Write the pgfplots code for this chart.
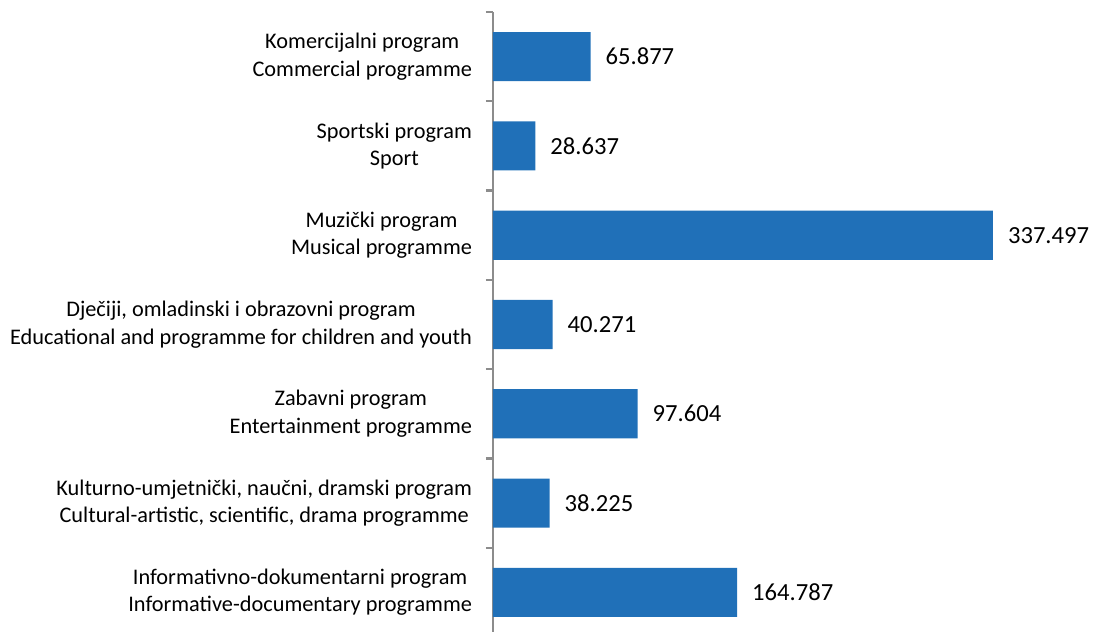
\documentclass[border=0pt]{standalone}
\usepackage{fontspec}
\setmainfont{Carlito}
\usepackage{pgfplots}
\pgfplotsset{compat=1.18}
\definecolor{barblue}{HTML}{2070B8}
\definecolor{axgrey}{HTML}{8C8C8C}

\begin{document}
\begin{tikzpicture}
\useasboundingbox (0,0) rectangle (546.5pt,316pt);
\begin{axis}[
  at={(246.5pt,-2.5pt)}, anchor=south west,
  scale only axis,
  width=259.26pt, height=312.5pt,
  xbar,
  bar width=0.55,
  xmin=0, xmax=350,
  ymin=-0.5, ymax=6.5,
  hide x axis,
  axis y line*=left,
  y axis line style={axgrey, line width=1.1pt, -},
  ytick={0,...,6},
  major tick length=0pt,
  minor ytick={-0.5,0.5,...,6.5},
  minor tick length=3.5pt,
  y tick style={axgrey, line width=1.1pt},
  tick align=outside,
  yticklabels={
    {Informativno-dokumentarni program\\Informative-documentary programme},
    {Kulturno-umjetnički, naučni, dramski program\\Cultural-artistic, scientific, drama programme},
    {Zabavni program\\Entertainment programme},
    {Dječiji, omladinski i obrazovni program\\Educational and programme for children and youth},
    {Muzički program\\Musical programme},
    {Sportski program\\Sport},
    {Komercijalni program\\Commercial programme}},
  yticklabel style={align=center, font=\fontsize{11.15}{13.8}\selectfont, xshift=-7pt},
  point meta=explicit symbolic,
  nodes near coords,
  nodes near coords style={font=\fontsize{12.3}{14}\selectfont, anchor=west, xshift=4pt},
]
  \addplot[fill=barblue, draw=none] coordinates {
    (164.787,0) [164.787]
    (38.225,1) [38.225]
    (97.604,2) [97.604]
    (40.271,3) [40.271]
    (337.497,4) [337.497]
    (28.637,5) [28.637]
    (65.877,6) [65.877]
  };
\end{axis}
\end{tikzpicture}
\end{document}
